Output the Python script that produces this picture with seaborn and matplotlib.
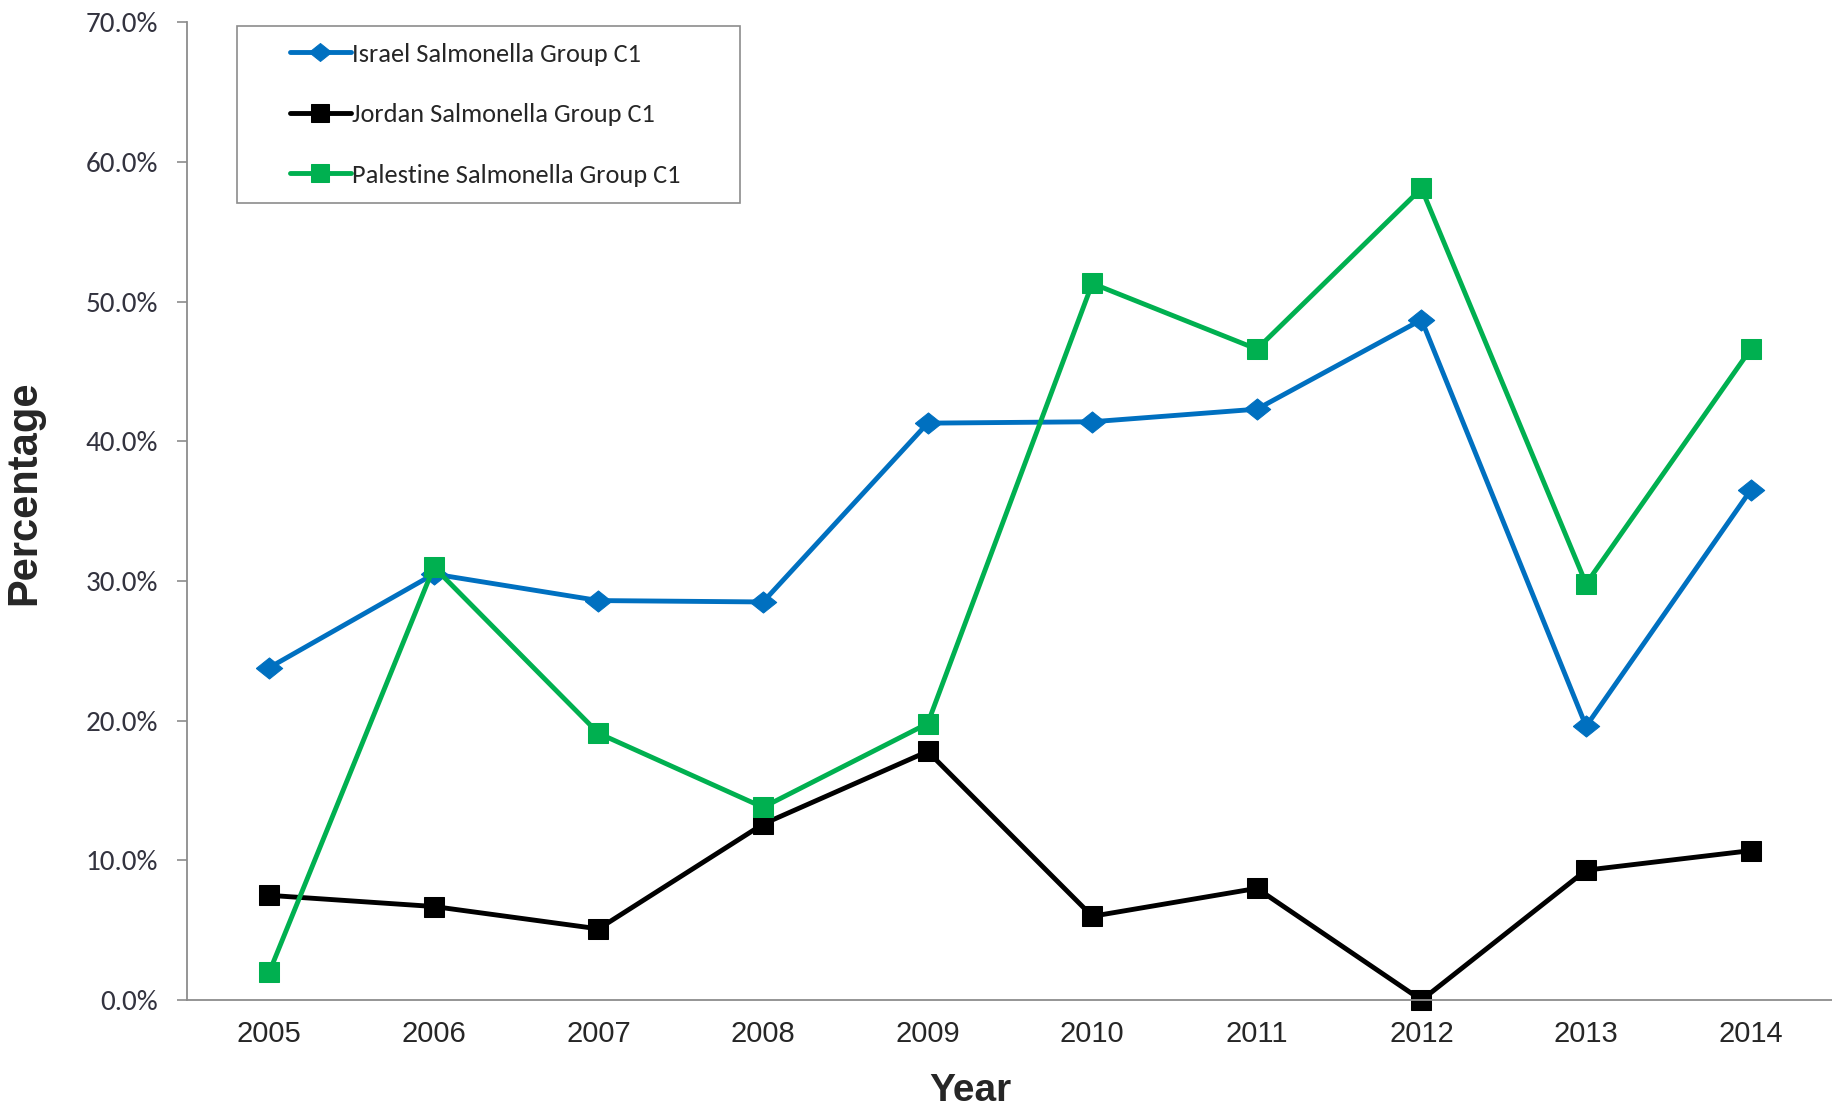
import numpy as np
import pandas as pd
import seaborn as sns
import matplotlib.pyplot as plt
from matplotlib.ticker import PercentFormatter
from matplotlib.patches import Rectangle

years = [2005, 2006, 2007, 2008, 2009, 2010, 2011, 2012, 2013, 2014]
israel = [0.238, 0.305, 0.286, 0.285, 0.413, 0.414, 0.423, 0.487, 0.196, 0.365]
jordan = [0.075, 0.067, 0.051, 0.126, 0.178, 0.060, 0.080, 0.000, 0.093, 0.107]
palestine = [0.020, 0.310, 0.191, 0.138, 0.198, 0.513, 0.466, 0.581, 0.298, 0.466]
labels = ["Israel Salmonella Group C1", "Jordan Salmonella Group C1",
          "Palestine Salmonella Group C1"]

sns.set_style("white")
plt.rcParams["font.family"] = ["Carlito", "Lato", "DejaVu Sans"]

#flat diamond like the excel one
dmd = [(-1, 0), (0, 0.8), (1, 0), (0, -0.8), (-1, 0)]
styles = [("#0070C0", dmd, 19), ("#000000", "s", 14.5), ("#00B050", "s", 15)]

fg = plt.figure(figsize=(18.33, 11.1), dpi=100)
ax = fg.add_axes([0.102, 0.099, 0.898, 0.881])

for vals, lab, (c, m, ms) in zip([israel, jordan, palestine], labels, styles):
    sns.lineplot(x=years, y=vals, ax=ax, color=c, marker=m, markersize=ms,
                 markeredgecolor=c, linewidth=3.5, label=lab, clip_on=False)

ax.set_xlim(2004.5, 2014.5)
ax.set_ylim(0, 0.7)
ax.set_xticks(years)
ax.set_yticks(np.arange(0, 0.71, 0.1))
ax.yaxis.set_major_formatter(PercentFormatter(1, decimals=1))

for s in ["top", "right"]:
    ax.spines[s].set_visible(False)
for s in ["left", "bottom"]:
    ax.spines[s].set_color("#8c8c8c")
    ax.spines[s].set_linewidth(1.3)

ax.tick_params(axis="y", left=True, length=7, width=1.2, color="#8c8c8c",
               pad=14, labelsize=21, labelcolor="#33333f")
ax.tick_params(axis="x", bottom=False, length=0, pad=14, labelsize=21)
for t in ax.get_xticklabels():
    t.set_family(["Liberation Sans Narrow", "Liberation Sans"])

ax.set_xlabel("Year", fontsize=28, fontweight="bold",
              family=["Liberation Sans Narrow", "Liberation Sans"])
ax.set_ylabel("Percentage", fontsize=30, fontweight="bold",
              family=["Liberation Sans Narrow", "Liberation Sans"])
ax.xaxis.set_label_coords(0.476, -0.075)
ax.yaxis.set_label_coords(-0.087, 0.519)

#legend box drawn by hand, excel pads it wide on the sides
ax.add_patch(Rectangle((0.0304, 0.815), 0.3056, 0.181, transform=ax.transAxes,
                       facecolor="white", edgecolor="#8c8c8c", linewidth=1.2,
                       zorder=5, clip_on=False))
lg = ax.legend(loc="upper left", bbox_to_anchor=(0.0626, 0.979), frameon=False,
               borderpad=0, borderaxespad=0, handlelength=2.3, handletextpad=0.05,
               labelspacing=1.42, fontsize=19, markerscale=0.85, numpoints=1)
lg.set_zorder(6)

plt.savefig("out.png", dpi=100)
